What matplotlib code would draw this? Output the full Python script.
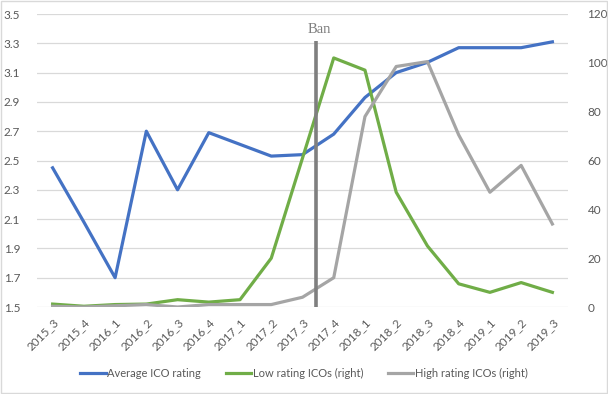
import numpy as np
import matplotlib.pyplot as plt
from matplotlib.patches import Rectangle

quarters = ['2015_3', '2015_4', '2016_1', '2016_2', '2016_3', '2016_4', '2017_1', '2017_2', '2017_3',
            '2017_4', '2018_1', '2018_2', '2018_3', '2018_4', '2019_1', '2019_2', '2019_3']
avg_rating = [2.45, 2.08, 1.70, 2.70, 2.30, 2.69, 2.61, 2.53, 2.54,
              2.68, 2.93, 3.10, 3.17, 3.27, 3.27, 3.27, 3.31]
low_icos = [1.2, 0.3, 1.0, 1.2, 3.0, 2.0, 3.0, 20, 61,
            102, 97, 47, 25, 9.5, 6, 10, 6]
high_icos = [0.3, 0, 0.5, 1, 0, 1, 1, 1, 4,
             12, 78, 98.5, 100.5, 70.5, 47, 58, 34]
ban_pos = 8.43  # between 2017_3 and 2017_4

plt.rcParams['font.family'] = ['Lato', 'DejaVu Sans']
txt = '#595959'

fig = plt.figure(figsize=(6.08, 3.94), dpi=100)
ax = fig.add_axes([37/608, 1 - 307/394, 531/608, 293/394])
ax2 = ax.twinx()

x = np.arange(len(quarters))
ax.plot(x, avg_rating, color='#4472C4', lw=2.3, label='Average ICO rating', zorder=3)
ax2.plot(x, low_icos, color='#70AD47', lw=2.3, label='Low rating ICOs (right)', zorder=3)
ax2.plot(x, high_icos, color='#A5A5A5', lw=2.3, label='High rating ICOs (right)', zorder=3)

ax.set_xlim(-0.5, len(quarters) - 0.5)
ax.set_ylim(1.5, 3.5)
ax2.set_ylim(0, 120)
ax.set_yticks(np.arange(1.5, 3.51, 0.2))
ax.set_yticklabels([f'{v:.1f}' for v in np.arange(1.5, 3.51, 0.2)])
ax2.set_yticks(np.arange(0, 121, 20))
ax.grid(axis='y', color='#D9D9D9', lw=0.9)
ax.set_axisbelow(True)

ax.set_xticks(x)
ax.set_xticklabels(quarters, rotation=45, ha='right', rotation_mode='anchor')
for lbl in ax.get_xticklabels():
    lbl.set_x(lbl.get_position()[0])
for a in (ax, ax2):
    for s in a.spines.values():
        s.set_visible(False)
    a.tick_params(length=0, colors=txt, labelsize=8.5)
ax.tick_params(axis='y', pad=12)
ax2.tick_params(axis='y', pad=14)
ax.tick_params(axis='x', pad=7)

# ban marker
ax2.vlines(ban_pos, 0, 109, color='#7F7F7F', lw=2.6, zorder=4)
ax2.text(ban_pos + 0.12, 113.5, 'Ban', ha='center', va='center', color='#7F7F7F',
         fontsize=10.5, family=['Liberation Serif'])

handles = ax.get_lines() + ax2.get_lines()
fig.legend(handles, [h.get_label() for h in handles], loc='center', bbox_to_anchor=(0.5, 1 - 373/394),
           ncol=3, frameon=False, fontsize=8, labelcolor=txt, handlelength=2.3,
           handletextpad=0.15, columnspacing=2.2)

fig.patches.append(Rectangle((0.002, 0.003), 0.996, 0.994, transform=fig.transFigure,
                             fill=False, edgecolor='#D9D9D9', lw=1))

fig.savefig('out.png', dpi=100)
